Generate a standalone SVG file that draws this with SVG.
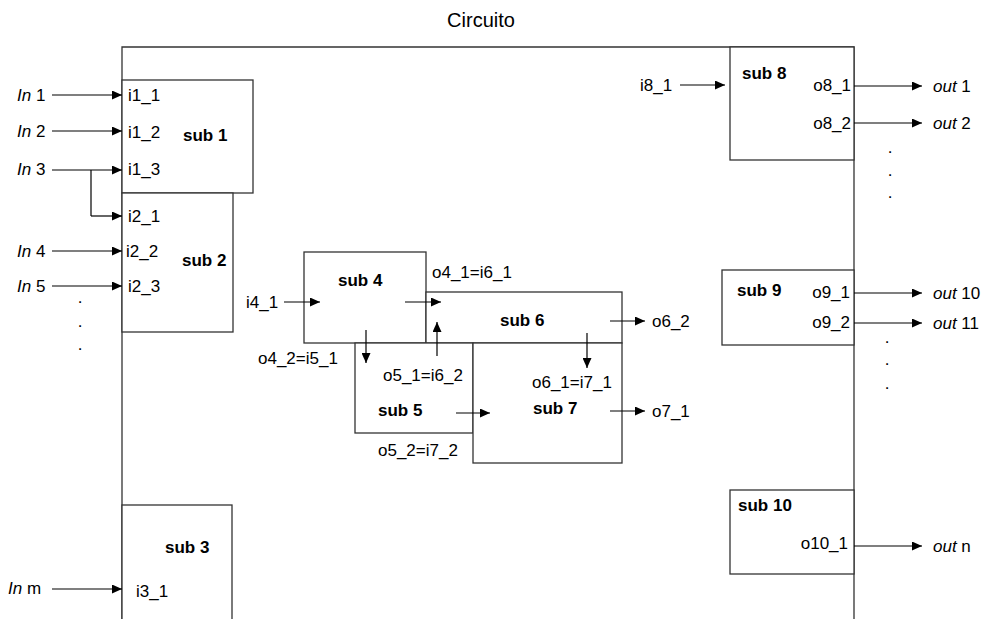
<svg xmlns="http://www.w3.org/2000/svg" width="984" height="619" viewBox="0 0 984 619">
<defs>
<marker id="ah" markerUnits="userSpaceOnUse" markerWidth="11" markerHeight="9" refX="10" refY="4.5" orient="auto">
<path d="M0,0 L10,4.5 L0,9 Z" fill="#000"/>
</marker>
<style>
text{font-family:"Liberation Sans",Arial,sans-serif;font-size:17px;fill:#000}
.b{font-weight:bold}
.e{text-anchor:end}
.m{text-anchor:middle}
.box{fill:#fff;stroke:#333;stroke-width:1.3}
.w{fill:none;stroke:#000;stroke-width:1.2}
.a{fill:none;stroke:#000;stroke-width:1.2;marker-end:url(#ah)}
</style>
</defs>
<rect width="984" height="619" fill="#fff"/>
<g id="circuito">
<path d="M122,619 V47 H854 V619" fill="none" stroke="#333" stroke-width="1.3"/>
<text x="481" y="27" class="m" style="font-size:20px">Circuito</text>
</g>
<g id="sub1"><rect class="box" x="122" y="80" width="131" height="113"/>
<text x="183" y="141" class="b">sub 1</text>
<text x="128" y="101">i1_1</text><text x="128" y="138">i1_2</text><text x="128" y="175">i1_3</text></g>
<g id="sub2"><rect class="box" x="122" y="193" width="111" height="139"/>
<text x="182" y="266" class="b">sub 2</text>
<text x="128" y="222">i2_1</text><text x="126" y="257">i2_2</text><text x="128" y="292">i2_3</text></g>
<g id="sub3"><rect class="box" x="122" y="505" width="110" height="130"/>
<text x="165" y="553" class="b">sub 3</text>
<text x="136" y="597">i3_1</text></g>
<g id="sub4"><rect class="box" x="304" y="252" width="122" height="91"/>
<text x="338" y="286" class="b">sub 4</text></g>
<g id="sub6"><rect class="box" x="426" y="292" width="196" height="51"/>
<text x="500" y="326" class="b">sub 6</text></g>
<g id="sub5"><rect class="box" x="355" y="343" width="118" height="90"/>
<text x="378" y="416" class="b">sub 5</text></g>
<g id="sub7"><rect class="box" x="473" y="343" width="149" height="120"/>
<text x="533" y="414" class="b">sub 7</text></g>
<g id="sub8"><rect class="box" x="730" y="47" width="124" height="113"/>
<text x="742" y="79" class="b">sub 8</text>
<text x="851" y="91" class="e">o8_1</text><text x="851" y="129" class="e">o8_2</text></g>
<g id="sub9"><rect class="box" x="722" y="270" width="132" height="75"/>
<text x="737" y="296" class="b">sub 9</text>
<text x="850" y="298" class="e">o9_1</text><text x="850" y="328" class="e">o9_2</text></g>
<g id="sub10"><rect class="box" x="730" y="490" width="124" height="84"/>
<text x="738" y="511" class="b">sub 10</text>
<text x="848" y="549" class="e">o10_1</text></g>
<g id="connectors">
<path class="a" d="M52,95 H122"/>
<path class="a" d="M52,131 H122"/>
<path class="a" d="M52,170 H122"/>
<path class="w" d="M91,170 V216"/>
<path class="a" d="M91,216 H122"/>
<path class="a" d="M52,251 H122"/>
<path class="a" d="M52,286 H122"/>
<path class="a" d="M52,589 H122"/>
<path class="a" d="M284,302 H320"/>
<path class="a" d="M405,302 H441"/>
<path class="a" d="M366,330 V363"/>
<path class="a" d="M437,356 V322"/>
<path class="a" d="M610,321 H645"/>
<path class="a" d="M587,333 V368"/>
<path class="a" d="M456,413 H490"/>
<path class="a" d="M610,411 H645"/>
<path class="a" d="M680,85 H725"/>
<path class="a" d="M854,86 H922"/>
<path class="a" d="M854,123 H922"/>
<path class="a" d="M854,293 H922"/>
<path class="a" d="M854,323 H922"/>
<path class="a" d="M854,546 H922"/>
</g>
<g id="labels">
<text x="17" y="101"><tspan font-style="italic">In</tspan> 1</text>
<text x="17" y="137"><tspan font-style="italic">In</tspan> 2</text>
<text x="17" y="175"><tspan font-style="italic">In</tspan> 3</text>
<text x="17" y="257"><tspan font-style="italic">In</tspan> 4</text>
<text x="17" y="292"><tspan font-style="italic">In</tspan> 5</text>
<text x="8" y="594"><tspan font-style="italic">In</tspan> m</text>
<text x="80" y="303" class="m">.</text><text x="80" y="327" class="m">.</text><text x="80" y="350" class="m">.</text>
<text x="246" y="308">i4_1</text>
<text x="432" y="278">o4_1=i6_1</text>
<text x="258" y="364">o4_2=i5_1</text>
<text x="383" y="381">o5_1=i6_2</text>
<text x="532" y="388">o6_1=i7_1</text>
<text x="378" y="456">o5_2=i7_2</text>
<text x="652" y="327">o6_2</text>
<text x="652" y="417">o7_1</text>
<text x="640" y="91">i8_1</text>
<text x="933" y="92"><tspan font-style="italic">out</tspan> 1</text>
<text x="933" y="129"><tspan font-style="italic">out</tspan> 2</text>
<text x="933" y="299"><tspan font-style="italic">out</tspan> 10</text>
<text x="933" y="329"><tspan font-style="italic">out</tspan> 11</text>
<text x="933" y="552"><tspan font-style="italic">out</tspan> n</text>
<text x="890" y="153" class="m">.</text><text x="890" y="176" class="m">.</text><text x="890" y="198" class="m">.</text>
<text x="887" y="343" class="m">.</text><text x="887" y="365" class="m">.</text><text x="887" y="389" class="m">.</text>
</g>
</svg>
